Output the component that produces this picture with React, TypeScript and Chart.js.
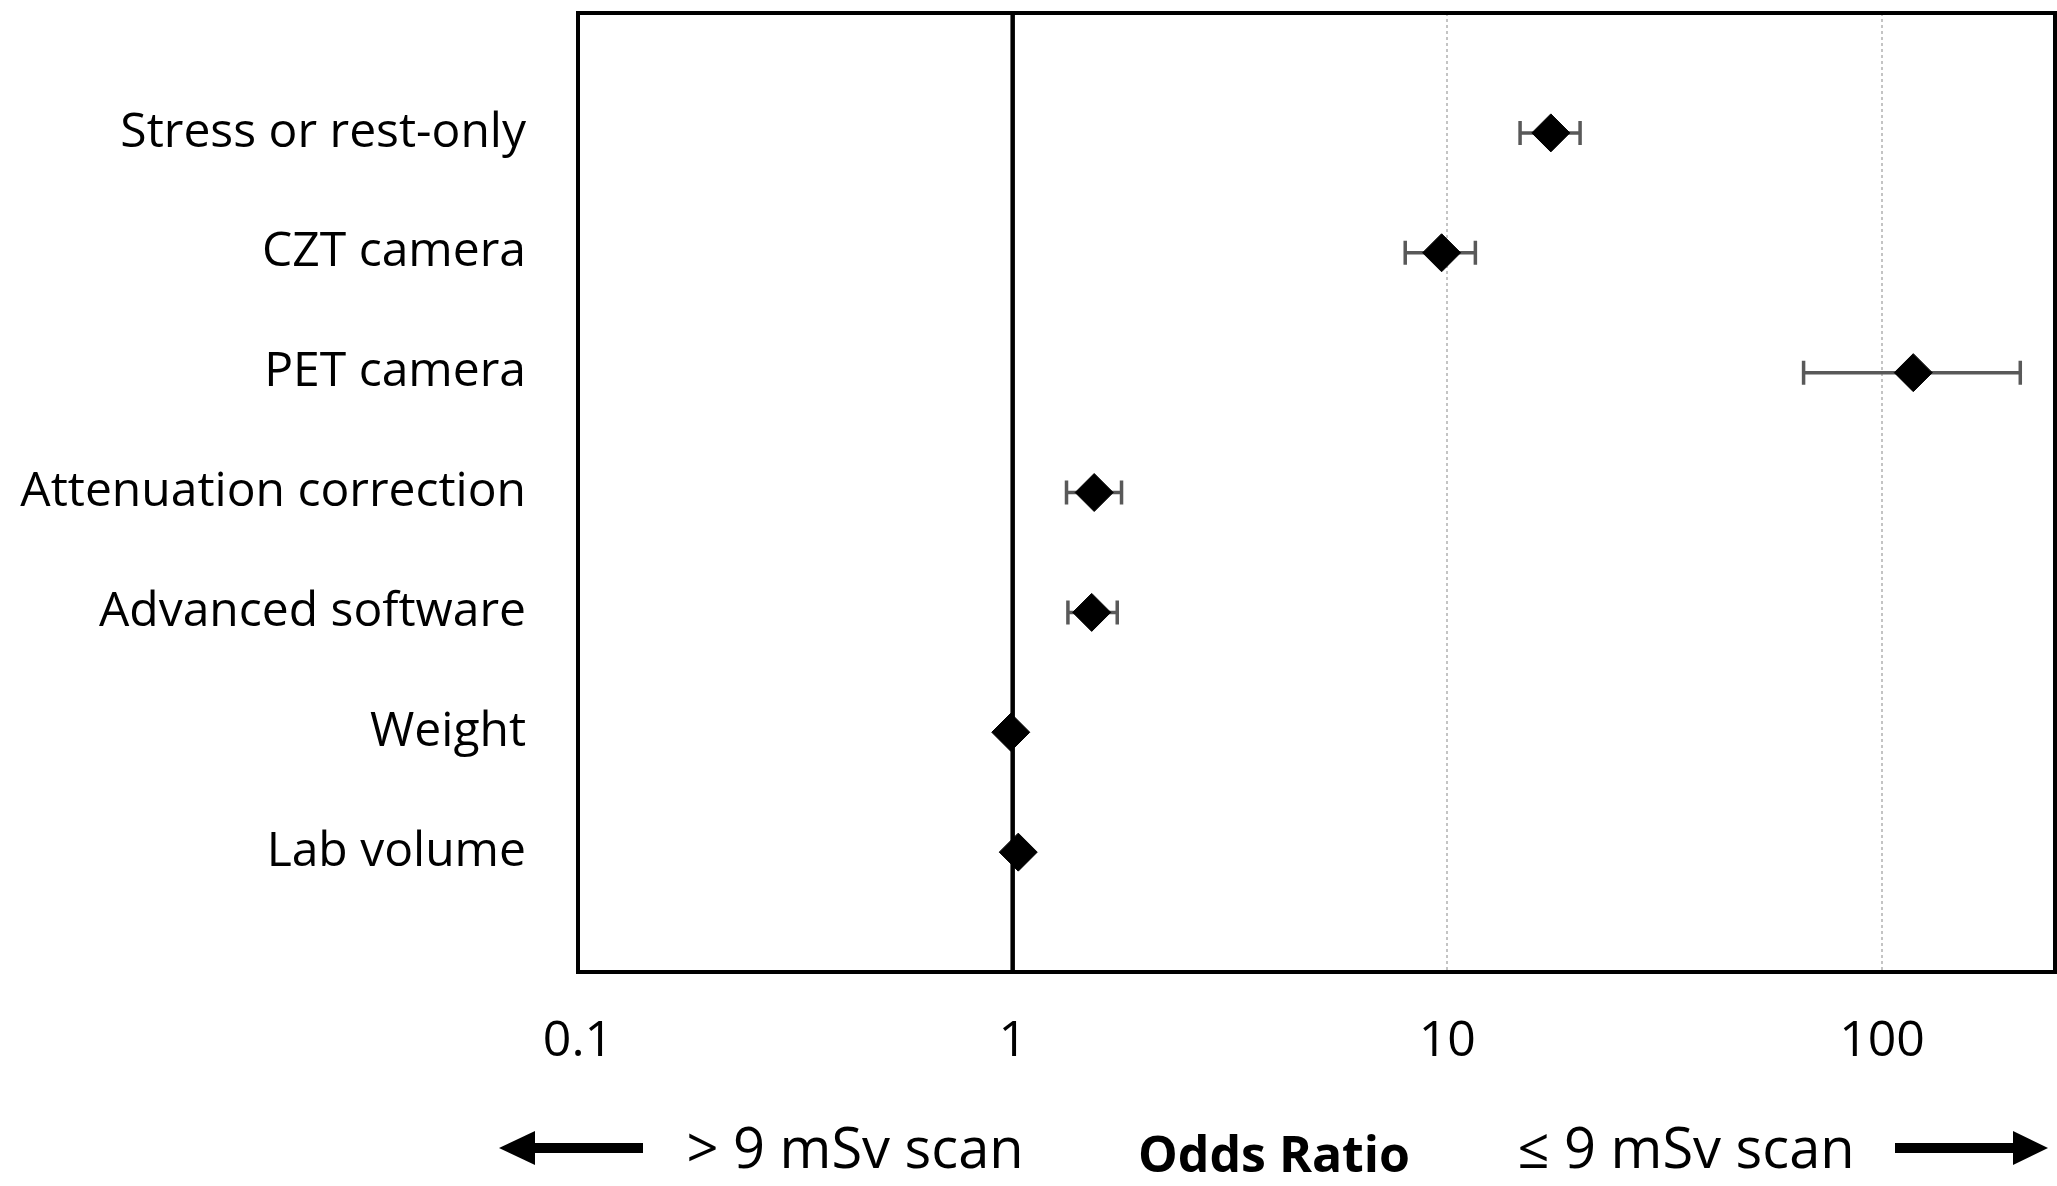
import React, { useEffect, useRef } from "react";
import { Chart, registerables } from "chart.js";

Chart.register(...registerables);

const categories = [
  "Stress or rest-only",
  "CZT camera",
  "PET camera",
  "Attenuation correction",
  "Advanced software",
  "Weight",
  "Lab volume",
];
const oddsRatio = [17.3, 9.7, 118, 1.54, 1.52, 0.99, 1.03];
const ciLow = [14.7, 8.0, 66, 1.33, 1.34, 0.985, 1.02];
const ciHigh = [20.2, 11.6, 208, 1.78, 1.74, 0.995, 1.04];
const xTickValues = [0.1, 1, 10, 100];
const xTickLabels = ["0.1", "1", "10", "100"];
const leftLabel = "> 9 mSv scan";
const rightLabel = "\u2264 9 mSv scan";
const axisTitle = "Odds Ratio";

const FONT = "'Open Sans', 'Noto Sans', sans-serif";

const errorBarPlugin = {
  id: "errorBars",
  beforeDatasetsDraw(chart: any) {
    const { ctx, scales } = chart;
    const xs = scales.x;
    const ys = scales.y;
    ctx.save();
    ctx.strokeStyle = "#595959";
    ctx.lineWidth = 3.5;
    categories.forEach((_, i) => {
      const y = ys.getPixelForValue(i + 1);
      const x1 = xs.getPixelForValue(ciLow[i]);
      const x2 = xs.getPixelForValue(ciHigh[i]);
      ctx.beginPath();
      ctx.moveTo(x1, y);
      ctx.lineTo(x2, y);
      ctx.moveTo(x1, y - 12);
      ctx.lineTo(x1, y + 12);
      ctx.moveTo(x2, y - 12);
      ctx.lineTo(x2, y + 12);
      ctx.stroke();
    });
    ctx.restore();
  },
  afterDraw(chart: any) {
    const { ctx, chartArea } = chart;
    ctx.save();
    // frame
    ctx.strokeStyle = "#000";
    ctx.lineWidth = 4;
    ctx.strokeRect(
      chartArea.left,
      chartArea.top,
      chartArea.right - chartArea.left,
      chartArea.bottom - chartArea.top
    );
    // bottom annotations
    ctx.fillStyle = "#000";
    ctx.textBaseline = "alphabetic";
    ctx.textAlign = "center";
    ctx.font = `56px ${FONT}`;
    ctx.fillText(leftLabel, 855, 1168);
    ctx.fillText(rightLabel, 1686, 1168);
    ctx.font = `bold 50px ${FONT}`;
    ctx.fillText(axisTitle, 1274, 1172);
    // arrows
    const ay = 1148;
    ctx.fillRect(532, ay - 5, 643 - 532, 10);
    ctx.beginPath();
    ctx.moveTo(499, ay);
    ctx.lineTo(535, ay - 17);
    ctx.lineTo(535, ay + 17);
    ctx.closePath();
    ctx.fill();
    ctx.fillRect(1895, ay - 5, 2016 - 1895, 10);
    ctx.beginPath();
    ctx.moveTo(2048, ay);
    ctx.lineTo(2013, ay - 17);
    ctx.lineTo(2013, ay + 17);
    ctx.closePath();
    ctx.fill();
    ctx.restore();
  },
};

export default function App() {
  const ref = useRef<HTMLCanvasElement | null>(null);
  useEffect(() => {
    if (!ref.current) return;
    const chart = new Chart(ref.current, {
      type: "scatter",
      data: {
        datasets: [
          {
            label: "Odds ratio",
            data: oddsRatio.map((v, i) => ({ x: v, y: i + 1 })),
            pointStyle: "rectRot",
            pointRadius: 19,
            pointBackgroundColor: "#000",
            pointBorderColor: "#000",
            pointBorderWidth: 1,
            showLine: false,
          },
          {
            label: "ref",
            data: [
              { x: 1, y: 0 },
              { x: 1, y: 8 },
            ],
            showLine: true,
            borderColor: "#000",
            borderWidth: 4.5,
            pointRadius: 0,
            order: 1,
          },
        ],
      },
      options: {
        responsive: false,
        animation: false,
        devicePixelRatio: 1,
        layout: { autoPadding: false, padding: { top: 13, right: 2, left: 0, bottom: 0 } },
        plugins: { legend: { display: false }, tooltip: { enabled: false } },
        scales: {
          x: {
            type: "logarithmic",
            min: 0.1,
            max: 250,
            afterBuildTicks: (scale: any) => {
              scale.ticks = xTickValues.map((v) => ({ value: v }));
            },
            afterFit: (scale: any) => {
              scale.height = 1186 - 972;
              scale.paddingLeft = 0;
              scale.paddingRight = 0;
            },
            ticks: {
              autoSkip: false,
              maxRotation: 0,
              padding: 40,
              color: "#000",
              font: { family: FONT, size: 50 },
              callback: (_v: any, i: number) => xTickLabels[i],
            },
            grid: {
              color: "#c4c4c4",
              lineWidth: 2,
              drawTicks: false,
            },
            border: { display: false, dash: [3, 3] },
          },
          y: {
            type: "linear",
            min: 0,
            max: 8,
            reverse: true,
            afterFit: (scale: any) => {
              scale.width = 578;
              scale.paddingTop = 0;
              scale.paddingBottom = 0;
            },
            ticks: {
              stepSize: 1,
              autoSkip: false,
              padding: 52,
              color: "#000",
              font: { family: FONT, size: 48 },
              callback: (v: any) => categories[Number(v) - 1] ?? "",
            },
            grid: { display: false, drawTicks: false },
            border: { display: false },
          },
        },
      },
      plugins: [errorBarPlugin],
    } as any);
    return () => chart.destroy();
  }, []);
  return (
    <div style={{ position: "absolute", left: 0, top: 0, width: 2057, height: 1186, background: "#fff" }}>
      <canvas ref={ref} width={2057} height={1186} style={{ display: "block" }} />
    </div>
  );
}
